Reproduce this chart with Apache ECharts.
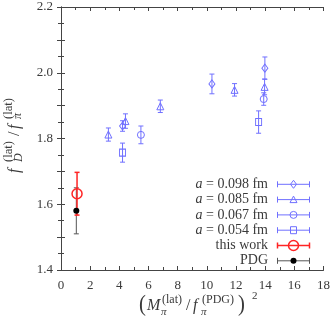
<!DOCTYPE html>
<html>
<head>
<meta charset="utf-8">
<script src="https://cdn.jsdelivr.net/npm/echarts@6/dist/echarts.min.js"></script>
<style>html,body{margin:0;padding:0;background:#fff}#c{width:333px;height:322px}</style>
</head>
<body>
<div id="c"></div>
<script>
// ---- data ----
const a098X = [4.22, 10.35, 13.98];
const a098Y = [1.838, 1.966, 2.014];
const a098E = [0.016, 0.030, 0.034];

const a085X = [3.25, 4.42, 6.81, 11.9, 13.96];
const a085Y = [1.812, 1.853, 1.898, 1.948, 1.957];
const a085E = [0.020, 0.022, 0.019, 0.019, 0.024];

const a067X = [5.48, 13.9];
const a067Y = [1.811, 1.920];
const a067E = [0.027, 0.019];

const a054X = [4.22, 13.55];
const a054Y = [1.757, 1.850];
const a054E = [0.029, 0.034];

const thisX = [1.1];
const thisY = [1.632];
const thisE = [0.065];

const pdgX = [1.05];
const pdgY = [1.58];
const pdgE = [0.07];

const legendLabels = ['a = 0.098 fm', 'a = 0.085 fm', 'a = 0.067 fm', 'a = 0.054 fm', 'this work', 'PDG'];
const xTicks = [0, 2, 4, 6, 8, 10, 12, 14, 16, 18];
const yTicks = [1.4, 1.6, 1.8, 2.0, 2.2];

// ---- styles ----
const BLUE = '#7070ff';
const RED = '#ff2424';
const GRAY = '#555555';
const FONT = 'Liberation Serif';
const TXT = '#3a3a3a';

function pts(xs, ys) { return xs.map((x, i) => [x, ys[i]]); }
function errPts(xs, ys, es) { return xs.map((x, i) => [x, ys[i], es[i]]); }

function errRender(color, lw) {
  return function (params, api) {
    const x = api.value(0), y = api.value(1), e = api.value(2);
    const t = api.coord([x, y + e]);
    const b = api.coord([x, y - e]);
    const c = 2.5;
    const st = { stroke: color, lineWidth: lw };
    return {
      type: 'group',
      children: [
        { type: 'line', shape: { x1: t[0], y1: t[1], x2: b[0], y2: b[1] }, style: st },
        { type: 'line', shape: { x1: t[0] - c, y1: t[1], x2: t[0] + c, y2: t[1] }, style: st },
        { type: 'line', shape: { x1: b[0] - c, y1: b[1], x2: b[0] + c, y2: b[1] }, style: st }
      ]
    };
  };
}

function errSeries(xs, ys, es, color, lw) {
  return {
    type: 'custom', renderItem: errRender(color, lw),
    encode: { x: 0, y: 1 }, data: errPts(xs, ys, es), z: 2, silent: true
  };
}
function markSeries(xs, ys, symbol, size, color, fill, bw) {
  return {
    type: 'scatter', data: pts(xs, ys), symbol: symbol, symbolSize: size,
    itemStyle: { color: fill, borderColor: color, borderWidth: bw, opacity: 1 }, z: 3, silent: true
  };
}

const axisCommon = {
  axisLine: { show: true, lineStyle: { color: '#444', width: 1 } },
  axisTick: { show: true, inside: true, length: 4, lineStyle: { color: '#444' } },
  minorTick: { show: true, splitNumber: 2, length: 3, lineStyle: { color: '#444' } },
  splitLine: { show: false },
  minorSplitLine: { show: false }
};

const xBase = Object.assign({ type: 'value', min: xTicks[0], max: xTicks[xTicks.length - 1], interval: 2 }, axisCommon);
const yBase = Object.assign({ type: 'value', min: yTicks[0], max: yTicks[yTicks.length - 1], interval: 0.1 }, axisCommon);

// legend graphic
const legendX = 268, sampleL = 277.5, sampleR = 309.5, sampleC = 293.5;
const rowY0 = 184.3, rowDY = 15.3;
const legendStyles = [
  { color: BLUE, lw: 1, mark: 'diamond' },
  { color: BLUE, lw: 1, mark: 'triangle' },
  { color: BLUE, lw: 1, mark: 'circle' },
  { color: BLUE, lw: 1, mark: 'rect' },
  { color: RED, lw: 1.5, mark: 'bigcircle' },
  { color: GRAY, lw: 1, mark: 'dot' }
];
const graphics = [];
legendLabels.forEach((lab, i) => {
  const y = rowY0 + i * rowDY;
  const s = legendStyles[i];
  let txt = lab;
  const rich = {
    i: { fontFamily: FONT, fontSize: 14, fontStyle: 'italic', fill: TXT },
    n: { fontFamily: FONT, fontSize: 14, fill: TXT }
  };
  if (lab.startsWith('a = ')) txt = '{i|a}{n|' + lab.slice(1) + '}';
  else txt = '{n|' + lab + '}';
  graphics.push({ type: 'text', x: legendX, y: y, style: { text: txt, rich: rich, align: 'right', verticalAlign: 'middle' } });
  const st = { stroke: s.color, lineWidth: s.lw };
  graphics.push({ type: 'line', shape: { x1: sampleL, y1: y, x2: sampleR, y2: y }, style: st });
  graphics.push({ type: 'line', shape: { x1: sampleL, y1: y - 3, x2: sampleL, y2: y + 3 }, style: st });
  graphics.push({ type: 'line', shape: { x1: sampleR, y1: y - 3, x2: sampleR, y2: y + 3 }, style: st });
  const ms = { fill: 'rgba(0,0,0,0)', stroke: s.color, lineWidth: 1 };
  if (s.mark === 'diamond') graphics.push({ type: 'polygon', shape: { points: [[sampleC, y - 4], [sampleC + 3, y], [sampleC, y + 4], [sampleC - 3, y]] }, style: ms });
  if (s.mark === 'triangle') graphics.push({ type: 'polygon', shape: { points: [[sampleC, y - 3.5], [sampleC + 3.5, y + 3], [sampleC - 3.5, y + 3]] }, style: ms });
  if (s.mark === 'circle') graphics.push({ type: 'circle', shape: { cx: sampleC, cy: y, r: 3.5 }, style: ms });
  if (s.mark === 'rect') graphics.push({ type: 'rect', shape: { x: sampleC - 3, y: y - 3.5, width: 6, height: 7 }, style: ms });
  if (s.mark === 'bigcircle') graphics.push({ type: 'circle', shape: { cx: sampleC, cy: y, r: 5 }, style: { fill: 'rgba(0,0,0,0)', stroke: RED, lineWidth: 1.5 } });
  if (s.mark === 'dot') graphics.push({ type: 'circle', shape: { cx: sampleC, cy: y, r: 3 }, style: { fill: '#000' } });
});

// axis titles
function t(x, y, text, size, italic, extra) {
  return Object.assign({ type: 'text', x: x, y: y, style: { text: text, fontFamily: FONT, fontSize: size, fontStyle: italic ? 'italic' : 'normal', fill: TXT, align: 'left', verticalAlign: 'middle' } }, extra || {});
}
graphics.push({
  type: 'group', x: 15, y: 173, rotation: Math.PI / 2,
  children: [
    t(0, 0, 'f', 16, true),
    t(11, 4, 'D', 12, true),
    t(11, -6, '(lat)', 12.5, false),
    t(37, 0, '/', 16, false),
    t(44, 0, 'f', 16, true),
    t(54, 3, 'π', 12, true),
    t(54, -6, '(lat)', 12.5, false)
  ]
});
graphics.push(t(139, 305, '(', 23, false, { scaleX: 0.9 }));
graphics.push(t(147, 306, 'M', 16, true));
graphics.push(t(161, 312, 'π', 11, true));
graphics.push(t(162, 299.5, '(lat)', 12, false));
graphics.push(t(186, 306, '/', 16, false));
graphics.push(t(193, 306, 'f', 16, true));
graphics.push(t(201, 312, 'π', 11, true));
graphics.push(t(202, 299.5, '(PDG)', 12, false));
graphics.push(t(238, 305, ')', 23, false, { scaleX: 0.9 }));
graphics.push(t(252, 296, '2', 11, false));

const option = {
  animation: false,
  backgroundColor: '#fff',
  grid: { left: 61, right: 6, top: 7, bottom: 52 },
  xAxis: [
    Object.assign({}, xBase, { position: 'bottom',
      axisLabel: { show: true, margin: 9, fontFamily: FONT, fontSize: 13, color: TXT,
        formatter: v => (xTicks.indexOf(Math.round(v)) >= 0 ? String(Math.round(v)) : '') } }),
    Object.assign({}, xBase, { position: 'top', axisLabel: { show: false } })
  ],
  yAxis: [
    Object.assign({}, yBase, { position: 'left',
      axisLabel: { show: true, margin: 8, fontFamily: FONT, fontSize: 13, color: TXT,
        formatter: v => (Math.round(v * 10) % 2 === 0 ? v.toFixed(1) : '') } }),
    Object.assign({}, yBase, { position: 'right', axisLabel: { show: false } })
  ],
  series: [
    errSeries(a098X, a098Y, a098E, BLUE, 1),
    errSeries(a085X, a085Y, a085E, BLUE, 1),
    errSeries(a067X, a067Y, a067E, BLUE, 1),
    errSeries(a054X, a054Y, a054E, BLUE, 1),
    errSeries(pdgX, pdgY, pdgE, GRAY, 1),
    errSeries(thisX, thisY, thisE, RED, 1.5),
    markSeries(a098X, a098Y, 'diamond', [6, 8], BLUE, 'rgba(0,0,0,0)', 1),
    markSeries(a085X, a085Y, 'triangle', [7, 7], BLUE, 'rgba(0,0,0,0)', 1),
    markSeries(a067X, a067Y, 'circle', 7, BLUE, 'rgba(0,0,0,0)', 1),
    markSeries(a054X, a054Y, 'rect', [6, 7], BLUE, 'rgba(0,0,0,0)', 1),
    markSeries(pdgX, pdgY, 'circle', 6, '#000', '#000', 0),
    markSeries(thisX, thisY, 'circle', 10, RED, 'rgba(0,0,0,0)', 1.5)
  ],
  graphic: graphics
};
const chart = echarts.init(document.getElementById('c'), null, { renderer: 'canvas' });
chart.setOption(option);
</script>
</body>
</html>
